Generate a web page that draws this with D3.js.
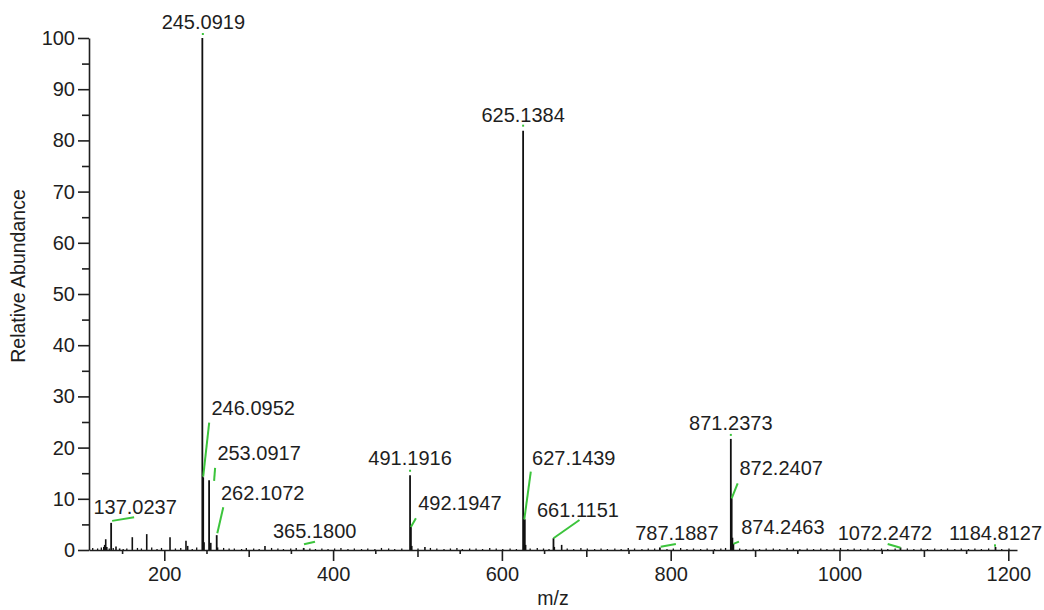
<!DOCTYPE html>
<html>
<head>
<meta charset="utf-8">
<script src="https://cdn.jsdelivr.net/npm/d3@7"></script>
<style>
  html, body { margin: 0; padding: 0; background: #fff; }
  svg { display: block; font-family: "Liberation Sans", Arial, sans-serif; }
  .axis text { font-size: 20px; fill: #1e1e1e; }
  .axis path, .axis line { stroke: #1e1e1e; stroke-width: 1.6; }
</style>
</head>
<body>
<svg id="chart" width="1044" height="610"></svg>
<script>
// Annotated peaks: m/z and relative abundance (%)
const labeledMz  = [137.0237, 245.0919, 246.0952, 253.0917, 262.1072, 365.1800, 491.1916, 492.1947,
                    625.1384, 627.1439, 661.1151, 787.1887, 871.2373, 872.2407, 874.2463, 1072.2472, 1184.8127];
const labeledInt = [5.3, 100, 14.2, 13.6, 2.9, 0.4, 14.6, 4.5,
                    81.9, 6.0, 2.3, 0.5, 21.7, 10.1, 1.2, 0.5, 0.6];

// Smaller unannotated peaks
const minorMz  = [128.3, 129.4, 130.6, 131.9, 142.8, 147.1, 162.1, 179.2, 206.8, 225.7, 227.7,
                  247.1, 255.1, 263.1, 319.3, 493.2, 508.8, 628.1, 662.1, 670.8, 873.2];
const minorInt = [0.6, 1.0, 2.1, 0.6, 0.7, 0.3, 2.5, 3.1, 2.5, 1.8, 0.8,
                  1.5, 1.4, 0.5, 0.8, 0.8, 0.6, 1.0, 0.6, 1.0, 2.4];

// Baseline noise
const noiseMz  = [115.2, 121.0, 125.4, 134.8, 139.5, 151.3, 155.6, 168.2, 172.9, 185.1, 191.4, 196.7,
                  213.2, 219.5, 233.1, 238.4, 270.3, 276.8, 283.0, 291.6, 297.2, 305.9, 312.4, 327.1,
                  334.6, 341.2, 349.8, 356.3, 372.5, 379.1, 386.7, 394.0, 401.8, 409.3, 417.6, 425.2,
                  433.7, 441.1, 449.5, 457.3, 465.8, 473.0, 481.4, 500.6, 515.3, 522.9, 531.4, 539.0,
                  546.7, 553.2, 561.8, 569.4, 577.1, 585.6, 593.3, 601.0, 609.7, 617.2, 633.5, 641.9,
                  649.3, 655.8, 677.4, 685.1, 693.6, 701.2, 709.9, 717.5, 725.0, 733.8, 741.3, 749.7,
                  757.2, 765.9, 773.4, 781.0, 795.6, 803.1, 811.8, 819.3, 827.0, 835.5, 843.2, 851.9,
                  859.4, 865.0, 881.7, 889.2, 897.8, 905.3, 913.1, 921.6, 929.2, 937.9, 945.4, 953.0,
                  961.7, 969.3, 977.8, 985.1, 993.6, 1001.2, 1009.9, 1017.4, 1025.0, 1033.7, 1041.3,
                  1049.8, 1057.2, 1065.9, 1080.4, 1088.1, 1096.7, 1104.2, 1112.8, 1120.5, 1128.0,
                  1136.6, 1144.3, 1152.9, 1160.4, 1168.1, 1176.7, 1192.2, 1200.8];
const noiseInt = [0.4, 0.3, 0.5, 0.3, 0.4, 0.2, 0.3, 0.4, 0.3, 0.5, 0.2, 0.4,
                  0.3, 0.4, 0.2, 0.5, 0.4, 0.3, 0.3, 0.2, 0.4, 0.3, 0.2, 0.4,
                  0.3, 0.2, 0.3, 0.4, 0.3, 0.2, 0.3, 0.2, 0.3, 0.4, 0.2, 0.3,
                  0.2, 0.3, 0.2, 0.4, 0.3, 0.2, 0.3, 0.3, 0.4, 0.3, 0.2, 0.3,
                  0.4, 0.2, 0.3, 0.3, 0.2, 0.4, 0.3, 0.2, 0.3, 0.2, 0.3, 0.4,
                  0.3, 0.2, 0.3, 0.2, 0.4, 0.3, 0.2, 0.3, 0.2, 0.3, 0.2, 0.4,
                  0.3, 0.2, 0.3, 0.3, 0.2, 0.3, 0.4, 0.2, 0.3, 0.2, 0.3, 0.2,
                  0.3, 0.4, 0.3, 0.2, 0.3, 0.2, 0.3, 0.3, 0.2, 0.4, 0.3, 0.2,
                  0.3, 0.2, 0.3, 0.2, 0.3, 0.4, 0.2, 0.3, 0.2, 0.3, 0.2,
                  0.3, 0.2, 0.3, 0.3, 0.2, 0.3, 0.2, 0.3, 0.2, 0.3,
                  0.2, 0.3, 0.2, 0.3, 0.2, 0.3, 0.2, 0.3];

// Axis ticks
const xMajorTicks  = [200, 400, 600, 800, 1000, 1200];
const xMediumTicks = [300, 500, 700, 900, 1100];
const xMinorTicks  = [150, 250, 350, 450, 550, 650, 750, 850, 950, 1050, 1150];
const yMajorTicks  = [0, 10, 20, 30, 40, 50, 60, 70, 80, 90, 100];
const yMinorTicks  = [5, 15, 25, 35, 45, 55, 65, 75, 85, 95];

// Label placement (pixel offsets from each annotated peak top) and leader segments
const labelOffsets = [[24, -9], [1, -9], [50, -62], [50, -20], [46, -35], [11, -10], [0, -10], [49, -16.5],
                      [0, -9], [49, -54], [24.5, -21], [17, -7], [0, -9], [49.5, -23], [49.5, -10], [-15.5, -7], [0, -6.5]];
const leaderSegs = [[1, -2, 23, -5.6], [0.5, -3, 0.5, -5], [0, -0.6, 6, -54.6], [5, 0.5, 6, -12.5],
                    [0.6, -2, 6.6, -28], [0.3, -3.7, 11.3, -6.3], [0, -3.5, 0, -5.5], [0, 0, 5, -8.7],
                    [0, -4, 0, -6], [-0.5, 0, 6, -47.6], [0, 0, 26, -18.2], [0.8, -0.7, 16, -3.4],
                    [0, -3, 0, -5], [0, 0, 6, -15], [0, 0, 5.6, -2.2], [-12.8, -3.4, 0, 0.3], [-0.5, -2.6, -0.5, -0.2]];

const svg = d3.select("#chart");
const x = d3.scaleLinear().domain([110.8, 1210.3]).range([89, 1017]);
const y = d3.scaleLinear().domain([0, 100]).range([550, 38]);

// Spectrum sticks
const sticks = svg.append("g").attr("stroke", "#111");
const drawSticks = (mz, inten, w) => {
  sticks.selectAll(null)
    .data(d3.zip(mz, inten))
    .join("line")
    .attr("x1", d => x(d[0])).attr("x2", d => x(d[0]))
    .attr("y1", y(0)).attr("y2", d => y(d[1]))
    .attr("stroke-width", w);
};
drawSticks(noiseMz, noiseInt, 1.3);
drawSticks(minorMz, minorInt, 1.6);
drawSticks(labeledMz, labeledInt, 1.8);

// X axis: labelled majors plus medium and minor ticks
const xg = svg.append("g").attr("class", "axis").attr("transform", `translate(0,${y(0)})`);
xg.call(d3.axisBottom(x).tickValues(xMajorTicks).tickSize(11).tickSizeOuter(0).tickPadding(5.8).tickFormat(d3.format("d")));
svg.append("g").attr("class", "axis").attr("transform", `translate(0,${y(0)})`)
  .call(d3.axisBottom(x).tickValues(xMediumTicks).tickSize(7).tickFormat(""))
  .call(g => g.select(".domain").remove());
svg.append("g").attr("class", "axis").attr("transform", `translate(0,${y(0)})`)
  .call(d3.axisBottom(x).tickValues(xMinorTicks).tickSize(4).tickFormat(""))
  .call(g => g.select(".domain").remove());

// Y axis
const yg = svg.append("g").attr("class", "axis").attr("transform", `translate(${x.range()[0]},0)`);
yg.call(d3.axisLeft(y).tickValues(yMajorTicks).tickSize(11).tickSizeOuter(0).tickPadding(3));
svg.append("g").attr("class", "axis").attr("transform", `translate(${x.range()[0]},0)`)
  .call(d3.axisLeft(y).tickValues(yMinorTicks).tickSize(7).tickFormat(""))
  .call(g => g.select(".domain").remove());

// Axis titles
svg.append("text")
  .attr("transform", "translate(25,276) rotate(-90)")
  .attr("text-anchor", "middle")
  .attr("font-size", 19.5).attr("fill", "#1e1e1e")
  .text("Relative Abundance");
svg.append("text")
  .attr("x", (x.range()[0] + x.range()[1]) / 2).attr("y", 605)
  .attr("text-anchor", "middle")
  .attr("font-size", 19.5).attr("fill", "#1e1e1e")
  .text("m/z");

// Peak annotations with green leader lines
const peaks = labeledMz.map((m, i) => ({ m, v: labeledInt[i], off: labelOffsets[i], seg: leaderSegs[i] }));
svg.append("g").selectAll("line")
  .data(peaks).join("line")
  .attr("x1", d => x(d.m) + d.seg[0]).attr("y1", d => y(d.v) + d.seg[1])
  .attr("x2", d => x(d.m) + d.seg[2]).attr("y2", d => y(d.v) + d.seg[3])
  .attr("stroke", "#3cc43c").attr("stroke-width", 2);
svg.append("g").selectAll("text")
  .data(peaks).join("text")
  .attr("x", d => x(d.m) + d.off[0]).attr("y", d => y(d.v) + d.off[1])
  .attr("text-anchor", "middle")
  .attr("font-size", 20).attr("fill", "#1e1e1e")
  .text(d => d.m.toFixed(4));
</script>
</body>
</html>
